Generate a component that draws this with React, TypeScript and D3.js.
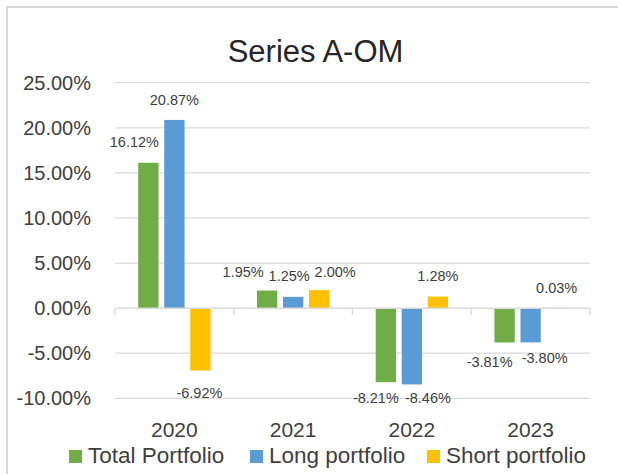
import React from 'react';
import * as d3 from 'd3';

const categories = ['2020', '2021', '2022', '2023'];
const totalPortfolio = [16.12, 1.95, -8.21, -3.81];
const longPortfolio = [20.87, 1.25, -8.46, -3.8];
const shortPortfolio = [-6.92, 2.0, 1.28, 0.03];
const seriesNames = ['Total Portfolio', 'Long portfolio', 'Short portfolio'];
const yTicks = [-10, -5, 0, 5, 10, 15, 20, 25];

const colors = ['#70ad47', '#5b9bd5', '#ffc000'];
// hand nudges for the data labels (Excel pushed some apart so they don't collide)
const labelNudge = [
  [[-14, -1], [-24, 1], [-10, -4], [-15, 0]],
  [[0, 0], [-4, -1], [16, -6], [14, -4]],
  [[-1, 2], [16, 2], [0, -1], [0, 0]],
];
const legendX = [69, 250, 427];

const W = 618;
const H = 474;
const font = '"Liberation Sans", Arial, sans-serif';
const textColor = '#404040';

export default function App() {
  const series = [totalPortfolio, longPortfolio, shortPortfolio];

  const x = d3.scaleBand<string>().domain(categories).range([115, 590]).padding(0);
  const xs = d3
    .scaleBand<number>()
    .domain([0, 1, 2])
    .range([0, x.bandwidth()])
    .paddingInner(0.219)
    .paddingOuter(0.892);
  const y = d3.scaleLinear().domain([-10, 25]).range([398.3, 82.7]);
  const fmt = (v: number) => v.toFixed(2) + '%';

  return (
    <svg
      width={W}
      height={H}
      style={{ position: 'absolute', left: 0, top: 0, background: '#fff' }}
    >
      <rect x={7} y={7} width={W + 50} height={H + 50} fill="#fff" stroke="#d9d9d9" strokeWidth={2} />

      <text x={315.5} y={62} textAnchor="middle" fontFamily={font} fontSize={31} fill="#262626">
        Series A-OM
      </text>

      {yTicks.map((t) => (
        <g key={t}>
          {t !== 0 && (
            <line x1={115} x2={590} y1={y(t)} y2={y(t)} stroke="#d9d9d9" strokeWidth={1.3} />
          )}
          <text
            x={91}
            y={y(t) + 7}
            textAnchor="end"
            fontFamily={font}
            fontSize={20}
            fill={textColor}
          >
            {fmt(t)}
          </text>
        </g>
      ))}

      {series.map((vals, si) =>
        vals.map((v, ci) => {
          const bx = (x(categories[ci]) as number) + (xs(si) as number);
          return (
            <rect
              key={`${si}-${ci}`}
              x={bx}
              y={Math.min(y(v), y(0))}
              width={xs.bandwidth()}
              height={Math.abs(y(v) - y(0))}
              fill={colors[si]}
            />
          );
        })
      )}

      {/* category axis */}
      <line x1={115} x2={590} y1={y(0)} y2={y(0)} stroke="#d9d9d9" strokeWidth={1.5} />
      {[...categories.map((c) => x(c) as number), 590].map((tx, i) => (
        <line key={i} x1={tx} x2={tx} y1={y(0)} y2={y(0) + 7} stroke="#d9d9d9" strokeWidth={1.5} />
      ))}

      {series.map((vals, si) =>
        vals.map((v, ci) => {
          const cx = (x(categories[ci]) as number) + (xs(si) as number) + xs.bandwidth() / 2;
          const base = v >= 0 ? y(v) - 15 : y(v) + 25;
          const [dx, dy] = labelNudge[si][ci];
          return (
            <text
              key={`l${si}-${ci}`}
              x={cx + dx}
              y={base + dy}
              textAnchor="middle"
              fontFamily={font}
              fontSize={14.5}
              fill={textColor}
            >
              {fmt(v)}
            </text>
          );
        })
      )}

      {categories.map((c) => (
        <text
          key={c}
          x={(x(c) as number) + x.bandwidth() / 2}
          y={437}
          textAnchor="middle"
          fontFamily={font}
          fontSize={21}
          fill={textColor}
        >
          {c}
        </text>
      ))}

      {seriesNames.map((name, i) => (
        <g key={name} transform={`translate(${legendX[i]},0)`}>
          <rect x={0} y={450} width={13} height={13} fill={colors[i]} />
          <text x={19} y={463} fontFamily={font} fontSize={22.5} fill={textColor}>
            {name}
          </text>
        </g>
      ))}
    </svg>
  );
}
